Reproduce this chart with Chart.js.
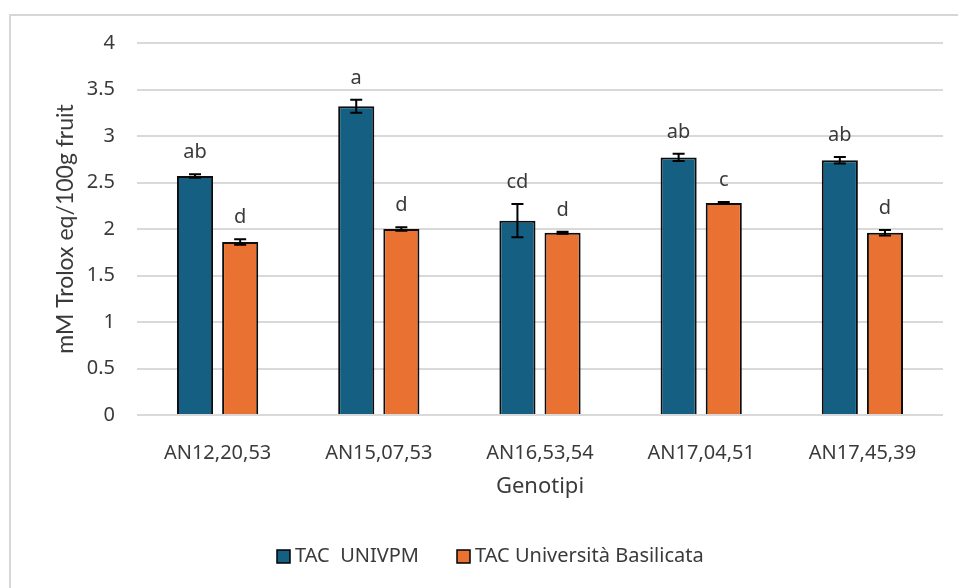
<!DOCTYPE html>
<html>
<head>
<meta charset="utf-8">
<script src="https://cdn.jsdelivr.net/npm/chart.js@4"></script>
<style>
  html, body { margin: 0; padding: 0; background: #ffffff; }
  #wrap { width: 958px; height: 588px; }
</style>
</head>
<body>
<div id="wrap"><canvas id="c" width="958" height="588"></canvas></div>
<script>
// Genotypes on the x axis
const categories = ['AN12,20,53', 'AN15,07,53', 'AN16,53,54', 'AN17,04,51', 'AN17,45,39'];

// Total antioxidant capacity, mM Trolox eq / 100 g fruit
const tacUnivpm = [2.57, 3.32, 2.09, 2.77, 2.74];
const tacUnivpmErr = [0.02, 0.07, 0.18, 0.04, 0.035];
const tacBasilicata = [1.86, 2.00, 1.96, 2.28, 1.96];
const tacBasilicataErr = [0.03, 0.02, 0.01, 0.01, 0.03];

// Significance letters above each bar
const lettersUnivpm = ['ab', 'a', 'cd', 'ab', 'ab'];
const lettersBasilicata = ['d', 'd', 'd', 'c', 'd'];

// Y axis ticks
const yTicks = [0, 0.5, 1, 1.5, 2, 2.5, 3, 3.5, 4];

const seriesNames = ['TAC  UNIVPM', 'TAC Università Basilicata'];
const yTitle = 'mM Trolox eq/100g fruit';
const xTitle = 'Genotipi';

const COL_BLUE = '#156082';
const COL_ORANGE = '#E97132';
const FONT = '"Noto Sans", sans-serif';
const TEXT_COL = '#3a3a3a';

const errors = [tacUnivpmErr, tacBasilicataErr];
const letters = [lettersUnivpm, lettersBasilicata];

// White background and the light frame around the chart
const framePlugin = {
  id: 'frame',
  beforeDraw(chart) {
    const ctx = chart.ctx;
    ctx.save();
    ctx.fillStyle = '#ffffff';
    ctx.fillRect(0, 0, chart.width, chart.height);
    ctx.strokeStyle = '#d6d6d6';
    ctx.lineWidth = 2;
    ctx.strokeRect(10, 15, chart.width + 20, chart.height + 20);
    ctx.restore();
  }
};

// Error bars and significance letters
const errorPlugin = {
  id: 'errorBars',
  afterDatasetsDraw(chart) {
    const ctx = chart.ctx;
    const y = chart.scales.y;
    ctx.save();
    chart.data.datasets.forEach((ds, di) => {
      const meta = chart.getDatasetMeta(di);
      meta.data.forEach((bar, i) => {
        const v = ds.data[i];
        const e = errors[di][i];
        const yTop = y.getPixelForValue(v + e);
        const yBot = y.getPixelForValue(v - e);
        const x = bar.x;
        ctx.strokeStyle = '#000000';
        ctx.lineWidth = 2;
        ctx.beginPath();
        ctx.moveTo(x, yTop); ctx.lineTo(x, yBot);
        ctx.moveTo(x - 6, yTop); ctx.lineTo(x + 6, yTop);
        ctx.moveTo(x - 6, yBot); ctx.lineTo(x + 6, yBot);
        ctx.stroke();

        ctx.fillStyle = TEXT_COL;
        ctx.font = '20px ' + FONT;
        ctx.textAlign = 'center';
        ctx.textBaseline = 'alphabetic';
        ctx.fillText(letters[di][i], x, yTop - 16);
      });
    });
    ctx.restore();
  }
};

// Axis titles and legend
const labelsPlugin = {
  id: 'labels',
  afterDraw(chart) {
    const ctx = chart.ctx;
    const area = chart.chartArea;
    ctx.save();
    ctx.fillStyle = TEXT_COL;

    // y axis title
    ctx.save();
    ctx.translate(66, (area.top + area.bottom) / 2);
    ctx.rotate(-Math.PI / 2);
    ctx.font = '23px Lato, sans-serif';
    ctx.textAlign = 'center';
    ctx.textBaseline = 'middle';
    ctx.fillText(yTitle, 0, 0);
    ctx.restore();

    // x axis title
    ctx.font = '22px ' + FONT;
    ctx.textAlign = 'center';
    ctx.textBaseline = 'middle';
    ctx.fillText(xTitle, (area.left + area.right) / 2, 487);

    // legend
    ctx.font = '20px ' + FONT;
    ctx.textBaseline = 'middle';
    ctx.textAlign = 'left';
    const colors = [COL_BLUE, COL_ORANGE];
    const starts = [277, 457];
    const ly = 556;
    seriesNames.forEach((name, k) => {
      const x0 = starts[k];
      ctx.fillStyle = colors[k];
      ctx.fillRect(x0, ly - 6, 13, 13);
      ctx.strokeStyle = '#000000';
      ctx.lineWidth = 1.5;
      ctx.strokeRect(x0, ly - 6, 13, 13);
      ctx.fillStyle = TEXT_COL;
      ctx.fillText(name, x0 + 18, ly);
    });
    ctx.restore();
  }
};

new Chart(document.getElementById('c'), {
  type: 'bar',
  data: {
    labels: categories,
    datasets: [
      {
        label: seriesNames[0],
        data: tacUnivpm,
        backgroundColor: COL_BLUE,
        borderColor: '#0d0d0d',
        borderWidth: 2,
        borderSkipped: 'bottom',
        barPercentage: 0.8,
        categoryPercentage: 0.56
      },
      {
        label: seriesNames[1],
        data: tacBasilicata,
        backgroundColor: COL_ORANGE,
        borderColor: '#0d0d0d',
        borderWidth: 2,
        borderSkipped: 'bottom',
        barPercentage: 0.8,
        categoryPercentage: 0.56
      }
    ]
  },
  options: {
    responsive: false,
    animation: false,
    devicePixelRatio: 1,
    layout: { padding: { left: 0, right: 15, top: 43, bottom: 113 } },
    plugins: {
      legend: { display: false },
      tooltip: { enabled: false }
    },
    scales: {
      x: {
        grid: { display: false },
        border: { display: false },
        ticks: {
          color: TEXT_COL,
          font: { family: FONT, size: 20 },
          padding: 18,
          maxRotation: 0
        },
        afterFit(scale) { scale.height = 60; }
      },
      y: {
        min: 0,
        max: 4,
        afterBuildTicks(scale) { scale.ticks = yTicks.map(v => ({ value: v })); },
        grid: { color: '#d9d9d9', lineWidth: 2, drawTicks: false },
        border: { display: false },
        ticks: {
          color: TEXT_COL,
          font: { family: FONT, size: 20 },
          padding: 22,
          callback: (v) => String(v)
        },
        afterFit(scale) { scale.width = 137; }
      }
    }
  },
  plugins: [framePlugin, errorPlugin, labelsPlugin]
});
</script>
</body>
</html>
